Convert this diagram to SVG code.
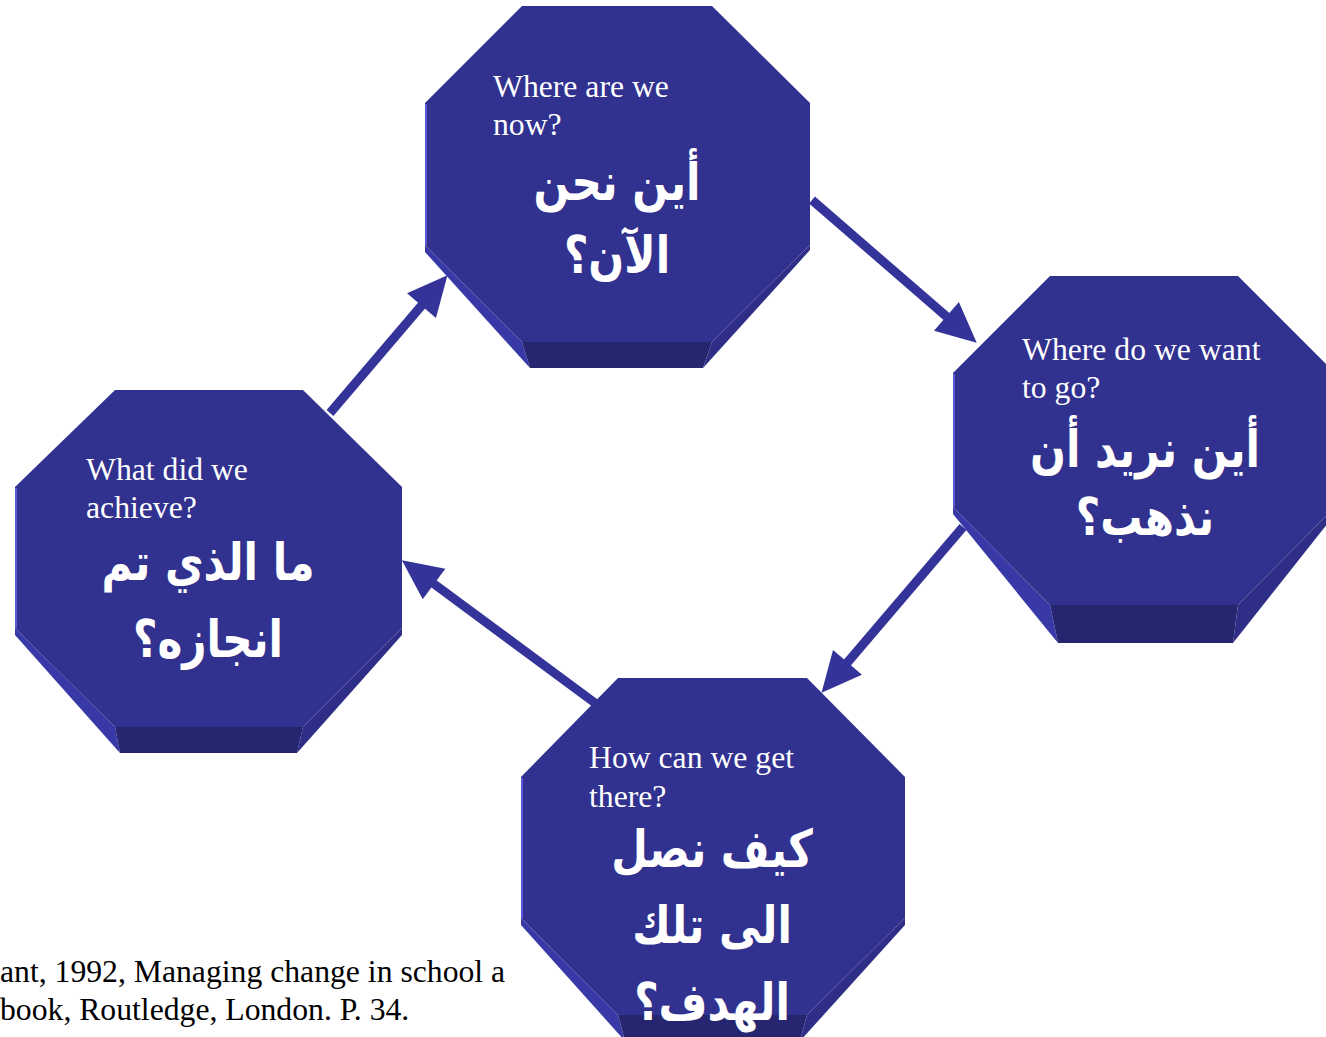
<svg xmlns="http://www.w3.org/2000/svg" width="1326" height="1037" viewBox="0 0 1326 1037">
  <defs>
    <style>
      .front { fill: #31318F; }
      .sideL { fill: #3838A6; }
      .sideR { fill: #2E2E86; }
      .bottom { fill: #262670; }
      .edge { stroke: #5A5AD6; stroke-width: 2; fill: none; }
      .en { font-family: "Liberation Serif", "Times New Roman", serif; font-size: 31.7px; fill: #FFFFFF; }
      .ar { font-family: "DejaVu Sans", sans-serif; font-weight: bold; font-size: 52px; fill: #FFFFFF; text-anchor: middle; direction: rtl; }
      .cite { font-family: "Liberation Serif", "Times New Roman", serif; font-size: 31.7px; fill: #000000; }
      .conn line { stroke: #333399; stroke-width: 9; }
    </style>
    <marker id="head" markerUnits="userSpaceOnUse" markerWidth="42" markerHeight="38" refX="10" refY="19" orient="auto" overflow="visible">
      <path d="M0,0 L40,19 L0,38 z" fill="#333399"/>
    </marker>
  </defs>
  <rect width="1326" height="1037" fill="#FFFFFF"/>

  <g id="connectors" class="conn">
    <line x1="812" y1="200" x2="954" y2="323" marker-end="url(#head)"/>
    <line x1="963" y1="527" x2="841" y2="670" marker-end="url(#head)"/>
    <line x1="595" y1="703" x2="426" y2="578" marker-end="url(#head)"/>
    <line x1="330" y1="413" x2="428" y2="298" marker-end="url(#head)"/>
  </g>

  <g id="node-now">
    <polygon class="sideL" points="425,245 522,342 530,368 425,252"/>
    <polygon class="sideR" points="810,245 712,342 703,368 810,250"/>
    <polygon class="bottom" points="522,342 712,342 703,368 530,368"/>
    <polygon class="front" points="522,6 712,6 810,103 810,245 712,342 522,342 425,245 425,103"/>
    <line class="edge" x1="426" y1="104" x2="426" y2="245"/>
    <text class="en" x="493" y="97">Where are we</text>
    <text class="en" x="493" y="135">now?</text>
    <text class="ar" transform="translate(617,200) scale(0.81,1)">أين نحن</text>
    <text class="ar" transform="translate(617,273) scale(0.81,1)">الآن؟</text>
  </g>

  <g id="node-go">
    <polygon class="sideL" points="953,507 1050,605 1058,643 953,514"/>
    <polygon class="sideR" points="1335,507 1238,605 1233,643 1335,514"/>
    <polygon class="bottom" points="1050,605 1238,605 1233,643 1058,643"/>
    <polygon class="front" points="1050,276 1238,276 1335,373 1335,507 1238,605 1050,605 953,507 953,373"/>
    <line class="edge" x1="954" y1="374" x2="954" y2="507"/>
    <text class="en" x="1022" y="360">Where do we want</text>
    <text class="en" x="1022" y="398">to go?</text>
    <text class="ar" transform="translate(1145,467) scale(0.81,1)">أين نريد أن</text>
    <text class="ar" transform="translate(1145,535) scale(0.81,1)">نذهب؟</text>
  </g>

  <g id="node-there">
    <polygon class="sideL" points="521,918 618,1015 625,1041 521,925"/>
    <polygon class="sideR" points="905,918 807,1015 800,1041 905,925"/>
    <polygon class="bottom" points="618,1015 807,1015 800,1041 625,1041"/>
    <polygon class="front" points="618,678 807,678 905,777 905,918 807,1015 618,1015 521,918 521,777"/>
    <line class="edge" x1="522" y1="778" x2="522" y2="918"/>
    <text class="en" x="589" y="768">How can we get</text>
    <text class="en" x="589" y="807">there?</text>
    <text class="ar" transform="translate(712,867) scale(0.81,1)">كيف نصل</text>
    <text class="ar" transform="translate(712,943) scale(0.81,1)">الى تلك</text>
    <text class="ar" transform="translate(712,1020) scale(0.81,1)">الهدف؟</text>
  </g>

  <g id="node-achieve">
    <polygon class="sideL" points="15,628 115,727 120,753 15,635"/>
    <polygon class="sideR" points="402,628 303,727 297,753 402,635"/>
    <polygon class="bottom" points="115,727 303,727 297,753 120,753"/>
    <polygon class="front" points="115,390 303,390 402,487 402,628 303,727 115,727 15,628 15,487"/>
    <line class="edge" x1="16" y1="488" x2="16" y2="628"/>
    <text class="en" x="86" y="480">What did we</text>
    <text class="en" x="86" y="518">achieve?</text>
    <text class="ar" transform="translate(208,580) scale(0.81,1)">ما الذي تم</text>
    <text class="ar" transform="translate(208,657) scale(0.81,1)">انجازه؟</text>
  </g>

  <g id="citation">
    <text class="cite" x="0" y="982">ant, 1992, Managing change in school a</text>
    <text class="cite" x="0" y="1020">book, Routledge, London. P. 34.</text>
  </g>
</svg>
